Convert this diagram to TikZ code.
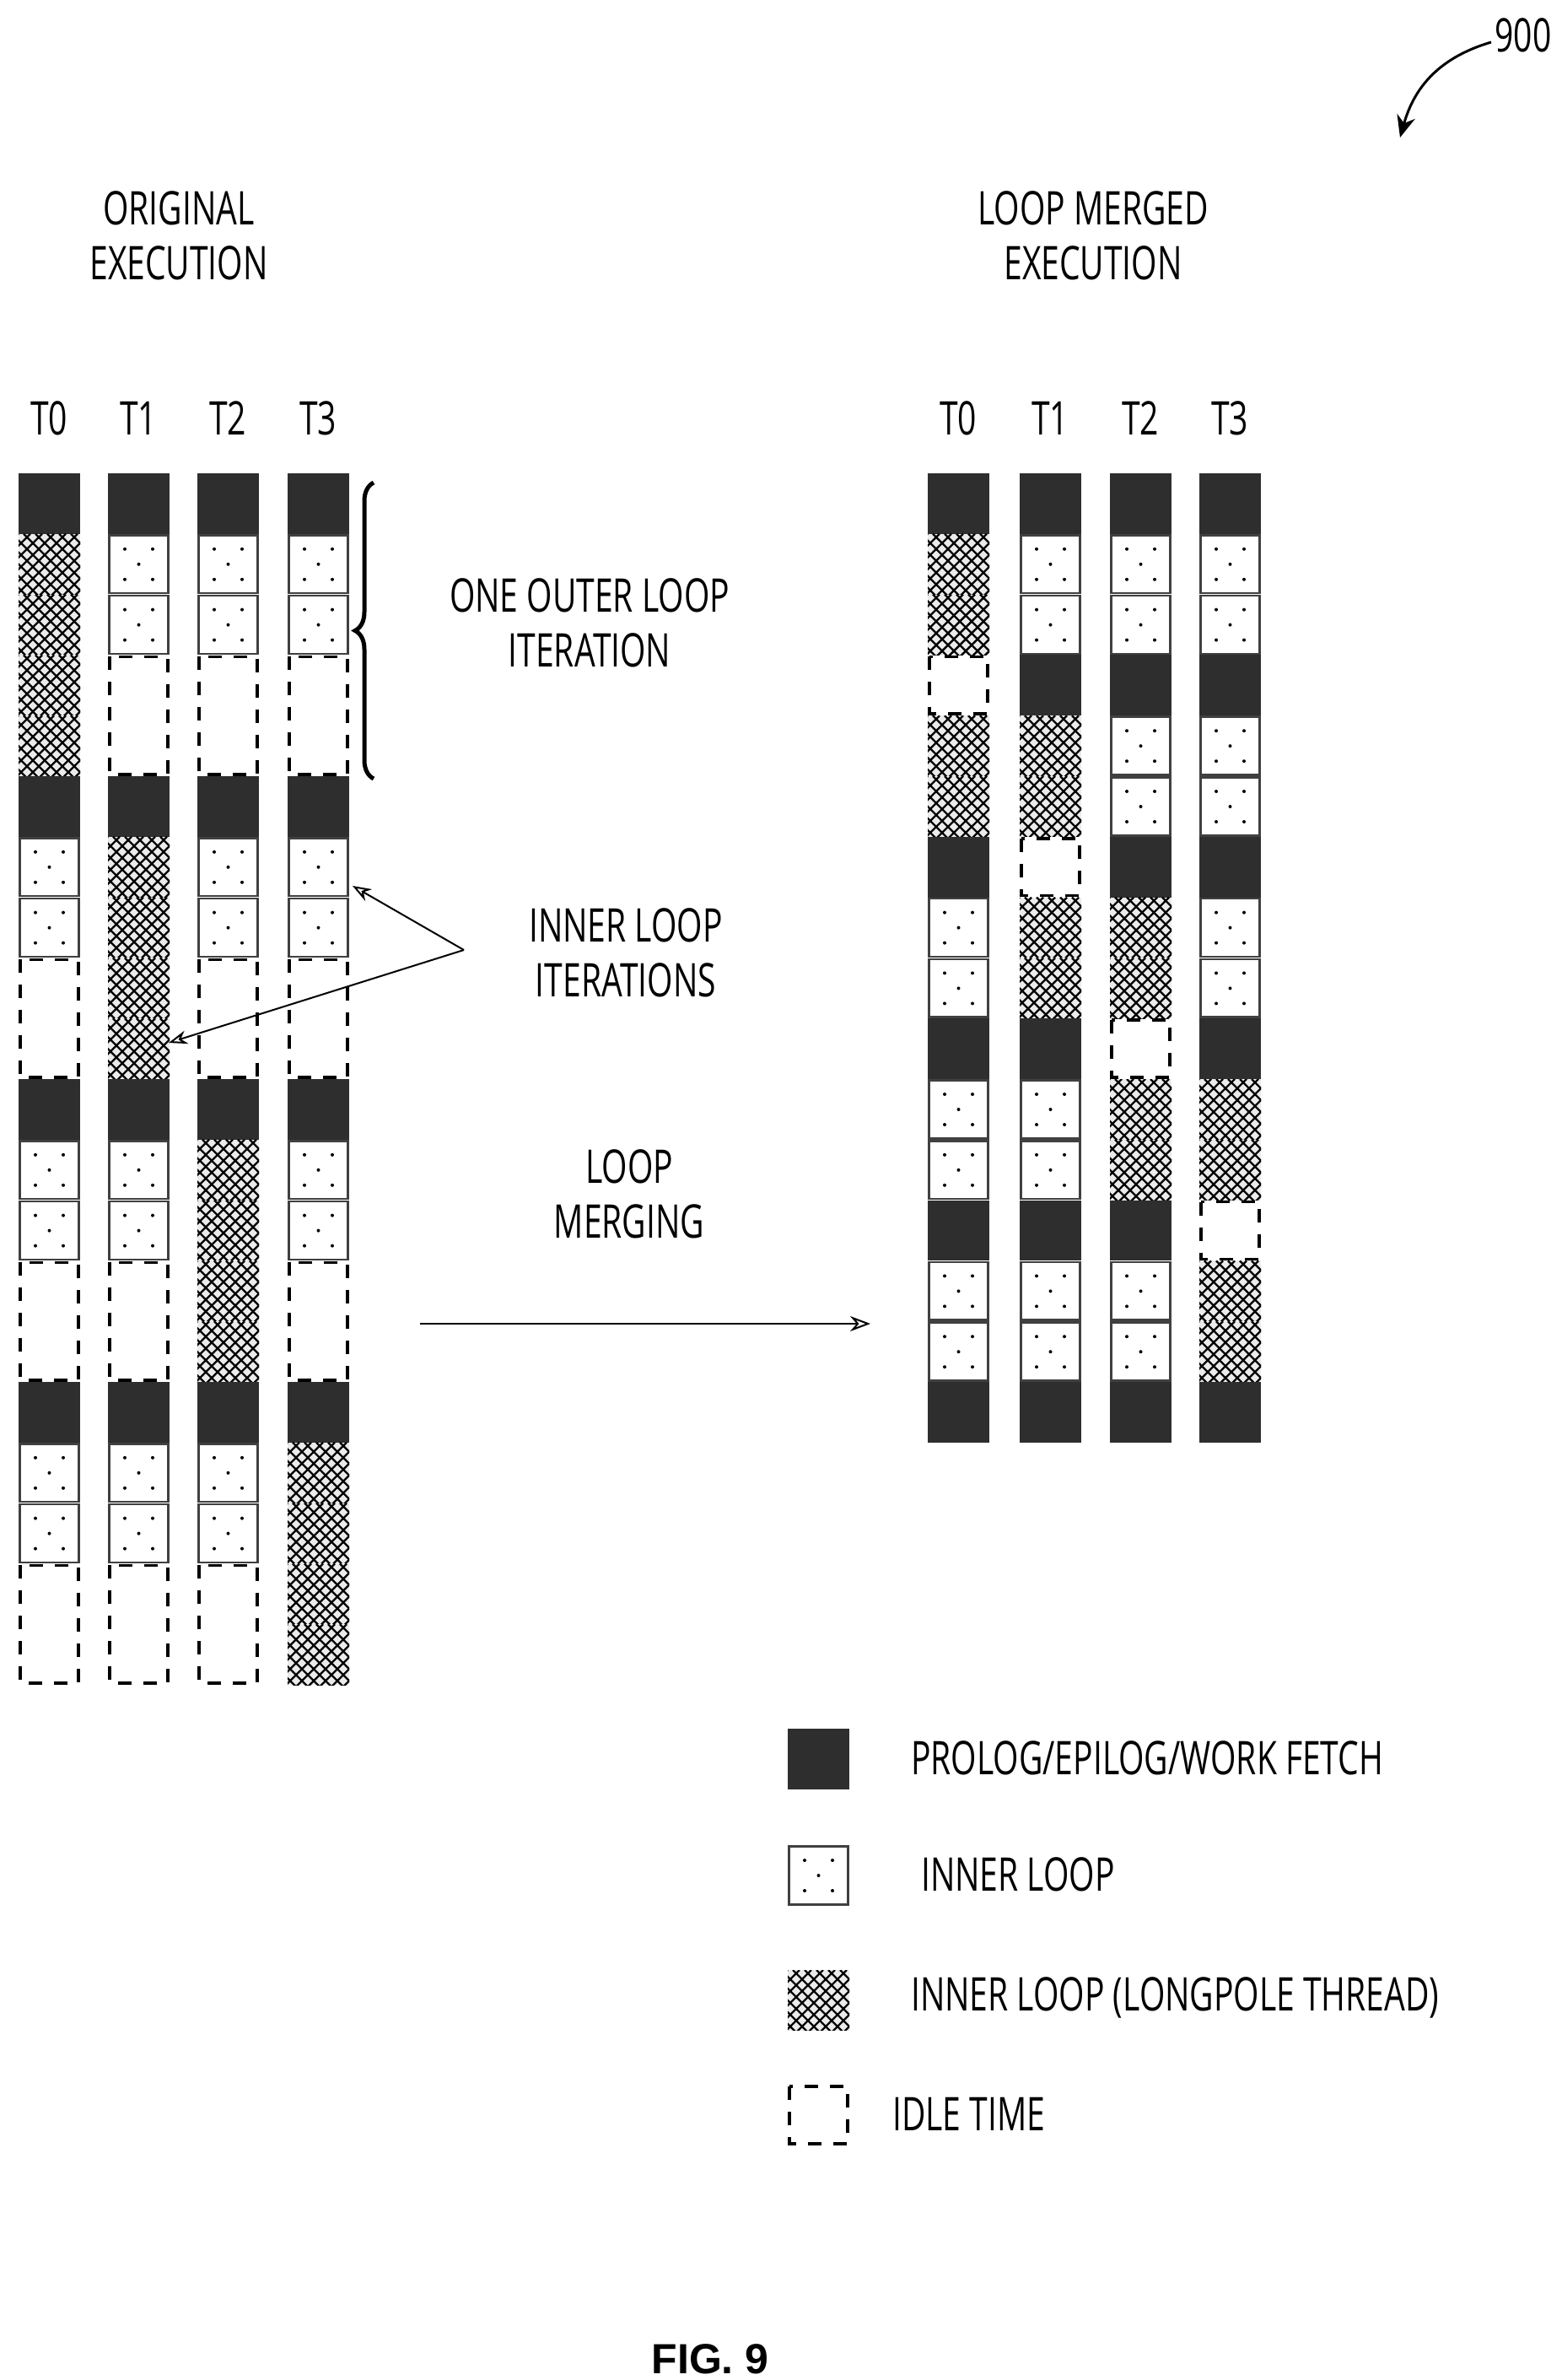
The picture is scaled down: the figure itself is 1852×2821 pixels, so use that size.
\documentclass[tikz,border=0pt]{standalone}
\usepackage{fontspec}
\setmainfont{Open Sans}
\usetikzlibrary{decorations.pathreplacing,arrows.meta}
\newcommand\sx[1]{\scalebox{0.71}[1]{#1}}
\newcommand\cellD[4]{\foreach \k in {1,...,#4}{\fill[black!82] (#1,{#2+(\k-1)*71.8}) rectangle ++(73,71.8);}}
\newcommand\cellI[4]{\foreach \k in {1,...,#4}{
  \pgfmathsetmacro\yy{#2+(\k-1)*71.8}
  \draw[black!75,line width=2.5pt,fill=white] (#1+1.5,\yy+1.5) rectangle ++(70,68.8);
  \foreach \dx/\dy in {20/18,53/18,36.5/36,20/54,53/54}{\fill (#1+\dx,\yy+\dy) circle (2pt);}}}
\newcommand\cellL[4]{\foreach \k in {1,...,#4}{
  \pgfmathsetmacro\yy{#2+(\k-1)*71.8}
  \begin{scope}
  \clip (#1,\yy) rectangle ++(73,71.8);
  \fill[black!8] (#1,\yy) rectangle ++(73,71.8);
  \foreach \s in {-78,-64,...,80}{\draw[line width=2.3pt] (#1+\s,\yy) -- ++(78,78);}
  \foreach \s in {0,14,...,156}{\draw[line width=2.3pt] (#1+\s,\yy) -- ++(-78,78);}
  \end{scope}}}
\newcommand\cellX[4]{\draw[line width=3.5pt,dash pattern=on 16pt off 14pt] (#1+2,#2+2) rectangle (#1+71,#3-2);}
\newcommand\mkcol[2]{\gdef\cyy{0}
  \foreach \t/\n in {#2}{
    \pgfmathsetmacro\ya{561+\cyy*71.8}
    \pgfmathsetmacro\yb{561+(\cyy+\n)*71.8}
    \csname cell\t\endcsname{#1}{\ya}{\yb}{\n}
    \pgfmathsetmacro\tmp{\cyy+\n}\xdef\cyy{\tmp}}}
\begin{document}
\begin{tikzpicture}[x=1pt,y=-1pt,
  lbl/.style={font=\fontsize{55}{65}\selectfont,align=center,inner sep=0pt},
  arr/.style={line width=2pt,-{Stealth[length=22pt,width=16pt,open]}}]
\useasboundingbox (0,0) rectangle (1852,2821);
\node[lbl] (n900) at (1806,42) {\sx{900}};
\coordinate (a900) at (1660,163);
\draw[line width=3pt,-{Stealth[length=26pt,width=22pt]}] (1768,50) .. controls (1700,70) and (1675,110) .. (a900);
\node[lbl] (orig) at (212,286) {\sx{\begin{tabular}{c}ORIGINAL\\EXECUTION\end{tabular}}};
\node[lbl] (merg) at (1296,286) {\sx{\begin{tabular}{c}LOOP MERGED\\EXECUTION\end{tabular}}};
\foreach \x/\t in {58/T0,164/T1,270/T2,377/T3,1136/T0,1245/T1,1352/T2,1458/T3}{\node[lbl] (h\t\x) at (\x,496) {\sx{\t}};}
\mkcol{22}{D/1,L/4,D/1,I/2,X/2,D/1,I/2,X/2,D/1,I/2,X/2}
\mkcol{128}{D/1,I/2,X/2,D/1,L/4,D/1,I/2,X/2,D/1,I/2,X/2}
\mkcol{234}{D/1,I/2,X/2,D/1,I/2,X/2,D/1,L/4,D/1,I/2,X/2}
\mkcol{341}{D/1,I/2,X/2,D/1,I/2,X/2,D/1,I/2,X/2,D/1,L/4}
\mkcol{1100}{D/1,L/2,X/1,L/2,D/1,I/2,D/1,I/2,D/1,I/2,D/1}
\mkcol{1209}{D/1,I/2,D/1,L/2,X/1,L/2,D/1,I/2,D/1,I/2,D/1}
\mkcol{1316}{D/1,I/2,D/1,I/2,D/1,L/2,X/1,L/2,D/1,I/2,D/1}
\mkcol{1422}{D/1,I/2,D/1,I/2,D/1,I/2,D/1,L/2,X/1,L/2,D/1}
\draw[line width=5pt,decorate,decoration={brace,amplitude=22pt,mirror}] (443,572) -- (443,923);
\node[lbl] (outer) at (699,745) {\sx{\begin{tabular}{c}ONE OUTER LOOP\\ITERATION\end{tabular}}};
\node[lbl] (inner) at (742,1136) {\sx{\begin{tabular}{c}INNER LOOP\\ITERATIONS\end{tabular}}};
\coordinate (src) at (550,1126);
\coordinate (t1) at (418,1050);
\coordinate (t2) at (200,1236);
\draw[arr] (src) -- (t1);
\draw[arr] (src) -- (t2);
\node[lbl] (merge) at (746,1422) {\sx{\begin{tabular}{c}LOOP\\MERGING\end{tabular}}};
\coordinate (m1) at (498,1569);
\coordinate (m2) at (1032,1569);
\draw[line width=2pt,-{Stealth[length=24pt,width=18pt,open]}] (m1) -- (m2);
\cellD{934}{2049}{2121}{1}
\cellI{934}{2187}{2259}{1}
\cellL{934}{2335}{2407}{1}
\cellX{934}{2471}{2543}{1}
\node[lbl,anchor=west] (lg1) at (1080,2084) {\sx{PROLOG/EPILOG/WORK FETCH}};
\node[lbl,anchor=west] (lg2) at (1092,2222) {\sx{INNER LOOP}};
\node[lbl,anchor=west] (lg3) at (1080,2368) {\sx{INNER LOOP (LONGPOLE THREAD)}};
\node[lbl,anchor=west] (lg4) at (1058,2506) {\sx{IDLE TIME}};
\node[font=\fontsize{50}{60}\selectfont\bfseries\fontspec{Liberation Sans}] (fig) at (842,2796) {FIG. 9};
\end{tikzpicture}
\end{document}
